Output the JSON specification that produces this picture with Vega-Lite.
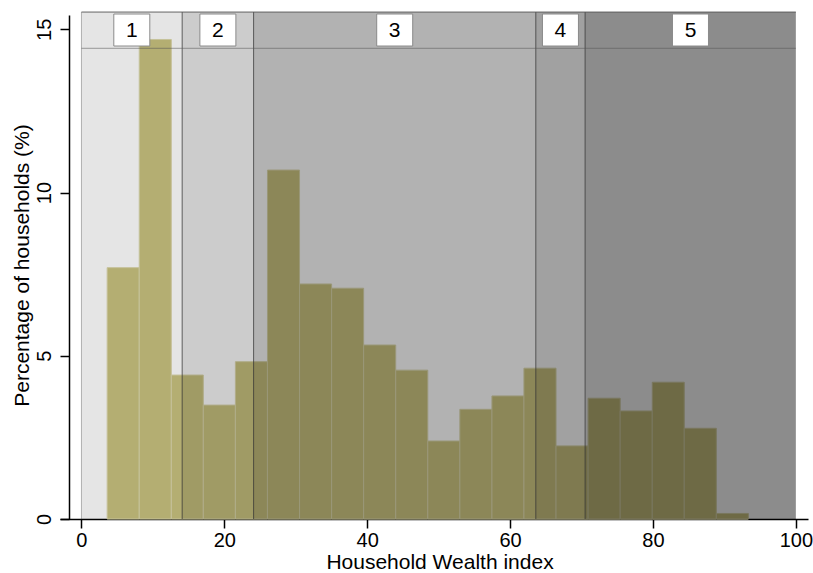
{
  "$schema": "https://vega.github.io/schema/vega-lite/v6.json",
  "autosize": "none",
  "width": 748,
  "height": 504,
  "padding": {"left": 60, "top": 15, "right": 5, "bottom": 54},
  "background": "white",
  "config": {
    "view": {"stroke": null},
    "font": "Liberation Sans",
    "axis": {"grid": false}
  },
  "datasets": {
    "hist": [
      {"bin_start": 3.6, "bin_end": 8.09, "pct": 7.70},
      {"bin_start": 8.09, "bin_end": 12.58, "pct": 14.69},
      {"bin_start": 12.58, "bin_end": 17.06, "pct": 4.41},
      {"bin_start": 17.06, "bin_end": 21.55, "pct": 3.49},
      {"bin_start": 21.55, "bin_end": 26.04, "pct": 4.82},
      {"bin_start": 26.04, "bin_end": 30.53, "pct": 10.69},
      {"bin_start": 30.53, "bin_end": 35.02, "pct": 7.20},
      {"bin_start": 35.02, "bin_end": 39.5, "pct": 7.07},
      {"bin_start": 39.5, "bin_end": 43.99, "pct": 5.33},
      {"bin_start": 43.99, "bin_end": 48.48, "pct": 4.56},
      {"bin_start": 48.48, "bin_end": 52.97, "pct": 2.39},
      {"bin_start": 52.97, "bin_end": 57.46, "pct": 3.36},
      {"bin_start": 57.46, "bin_end": 61.94, "pct": 3.77},
      {"bin_start": 61.94, "bin_end": 66.43, "pct": 4.62},
      {"bin_start": 66.43, "bin_end": 70.92, "pct": 2.24},
      {"bin_start": 70.92, "bin_end": 75.41, "pct": 3.70},
      {"bin_start": 75.41, "bin_end": 79.9, "pct": 3.31},
      {"bin_start": 79.9, "bin_end": 84.38, "pct": 4.19},
      {"bin_start": 84.38, "bin_end": 88.87, "pct": 2.78},
      {"bin_start": 88.87, "bin_end": 93.36, "pct": 0.17}
    ],
    "bands": [
      {"band": "1", "start": 0, "end": 14.1, "mid": 7.05},
      {"band": "2", "start": 14.1, "end": 24.1, "mid": 19.1},
      {"band": "3", "start": 24.1, "end": 63.6, "mid": 43.85},
      {"band": "4", "start": 63.6, "end": 70.5, "mid": 67.05},
      {"band": "5", "start": 70.5, "end": 100, "mid": 85.25}
    ]
  },
  "encoding": {
    "x": {"type": "quantitative"},
    "y": {"type": "quantitative"}
  },
  "layer": [
    {
      "data": {"name": "hist"},
      "mark": {"type": "rect", "fill": "#c9c27f", "stroke": "#dcd8ac", "strokeWidth": 1},
      "encoding": {
        "x": {
          "field": "bin_start", "type": "quantitative",
          "scale": {"domain": [-3.0, 101.7], "nice": false, "zero": false},
          "axis": {
            "values": [0, 20, 40, 60, 80, 100],
            "title": "Household Wealth index",
            "titleFont": "Liberation Sans", "titleFontSize": 21, "titleFontWeight": "normal", "titleColor": "black",
            "titleX": 379.5, "titleY": 49, "titleBaseline": "alphabetic", "titleAlign": "center",
            "labelFont": "Liberation Sans", "labelFontSize": 20, "labelColor": "black",
            "labelBaseline": "alphabetic", "labelPadding": 18, "labelFlush": false, "labelOverlap": false,
            "tickSize": 9, "tickColor": "black", "tickWidth": 1.5,
            "domainColor": "black", "domainWidth": 1.5
          }
        },
        "x2": {"field": "bin_end"},
        "y": {
          "field": "pct", "type": "quantitative",
          "scale": {"domain": [0, 15.44], "nice": false},
          "axis": {
            "values": [0, 5, 10, 15],
            "offset": -9,
            "title": "Percentage of households (%)",
            "titleFont": "Liberation Sans", "titleFontSize": 21, "titleFontWeight": "normal", "titleColor": "black",
            "titleAngle": 270, "titleX": -41, "titleY": 250, "titleBaseline": "alphabetic", "titleAlign": "center",
            "labelFont": "Liberation Sans", "labelFontSize": 20, "labelColor": "black",
            "labelAngle": 270, "labelAlign": "center", "labelBaseline": "alphabetic", "labelPadding": 10,
            "labelFlush": false, "labelOverlap": false,
            "tickSize": 9, "tickColor": "black", "tickWidth": 1.5,
            "domainColor": "black", "domainWidth": 1.5
          }
        },
        "y2": {"datum": 0}
      }
    },
    {
      "data": {"name": "bands"},
      "mark": {"type": "rect"},
      "encoding": {
        "x": {"field": "start", "type": "quantitative"},
        "x2": {"field": "end"},
        "y": {"datum": 0},
        "y2": {"datum": 15.53},
        "fill": {
          "field": "band", "type": "nominal",
          "scale": {"domain": ["1", "2", "3", "4", "5"], "range": ["rgba(0,0,0,0.10)", "rgba(0,0,0,0.20)", "rgba(0,0,0,0.30)", "rgba(0,0,0,0.37)", "rgba(0,0,0,0.45)"]},
          "legend": null
        }
      }
    },
    {
      "data": {"name": "bands"},
      "mark": {"type": "rule", "color": "#333333", "strokeWidth": 1},
      "encoding": {
        "x": {"field": "start", "type": "quantitative"},
        "y": {"datum": 0},
        "y2": {"datum": 15.53},
        "strokeOpacity": {"condition": {"test": "datum.start === 0", "value": 0.35}, "value": 0.75}
      }
    },
    {
      "data": {"values": [{"level": 15.53}, {"level": 14.42}]},
      "mark": {"type": "rule", "color": "#555555", "strokeWidth": 1},
      "encoding": {
        "x": {"datum": 0},
        "x2": {"datum": 100},
        "y": {"field": "level", "type": "quantitative"},
        "strokeOpacity": {"condition": {"test": "datum.level > 15", "value": 0.9}, "value": 0.55}
      }
    },
    {
      "data": {"name": "bands"},
      "mark": {"type": "point", "shape": "M-1,-0.889H1V0.889H-1Z", "size": 1296, "filled": true, "fill": "white", "stroke": "#8a8a8a", "strokeWidth": 1, "opacity": 1},
      "encoding": {
        "x": {"field": "mid", "type": "quantitative"},
        "y": {"datum": 14.98}
      }
    },
    {
      "data": {"name": "bands"},
      "mark": {"type": "text", "fontSize": 21, "font": "Liberation Sans", "color": "black", "baseline": "middle", "align": "center", "dy": 1},
      "encoding": {
        "x": {"field": "mid", "type": "quantitative"},
        "y": {"datum": 14.98},
        "text": {"field": "band"}
      }
    }
  ]
}
